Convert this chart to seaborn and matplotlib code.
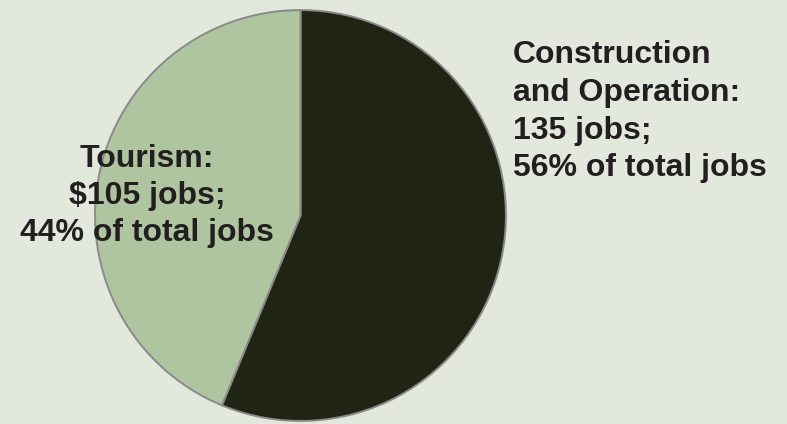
import matplotlib
matplotlib.use("Agg")
import matplotlib.pyplot as plt
import seaborn as sns

# Job counts by sector
categories = ["Construction and Operation", "Tourism"]
jobs = [135, 105]
shares = [56, 44]

# Label lines shown next to each slice
label_lines = {
    "Construction and Operation": ["Construction", "and Operation:", "135 jobs;", "56% of total jobs"],
    "Tourism": ["Tourism:", "$105 jobs;", "44% of total jobs"],
}

bg = "#e2e9dc"
slice_colors = sns.color_palette(["#1f2414", "#afc5a0"])
text_color = "#231f20"

sns.set_theme(style="white")
plt.rcParams["font.family"] = ["Liberation Sans", "DejaVu Sans"]

W, H = 787, 424
fig = plt.figure(figsize=(W / 100, H / 100), dpi=100, facecolor=bg)

# Pie placement in pixels: centre and radius
cx, cy, r = 300.5, 215.5, 207.5
ax = fig.add_axes([(cx - r) / W, (H - cy - r) / H, 2 * r / W, 2 * r / H])
ax.set_facecolor(bg)
ax.pie(
    jobs,
    colors=slice_colors,
    startangle=90,
    counterclock=False,
    radius=1.0,
    wedgeprops=dict(edgecolor="#8a8a8a", linewidth=1.4),
)
ax.set_xlim(-1.01, 1.01)
ax.set_ylim(-1.01, 1.01)
ax.set_aspect("equal")
ax.axis("off")

fs = 23

def put_lines(lines, x, y0, dy, ha):
    for i, line in enumerate(lines):
        fig.text(x / W, 1 - (y0 + i * dy) / H, line, ha=ha, va="baseline",
                 fontsize=fs, fontweight="bold", color=text_color)

put_lines(label_lines["Construction and Operation"], 513, 63, 37.8, "left")
put_lines(label_lines["Tourism"], 147, 167, 37, "center")

fig.savefig("out.png", dpi=100, facecolor=bg)
